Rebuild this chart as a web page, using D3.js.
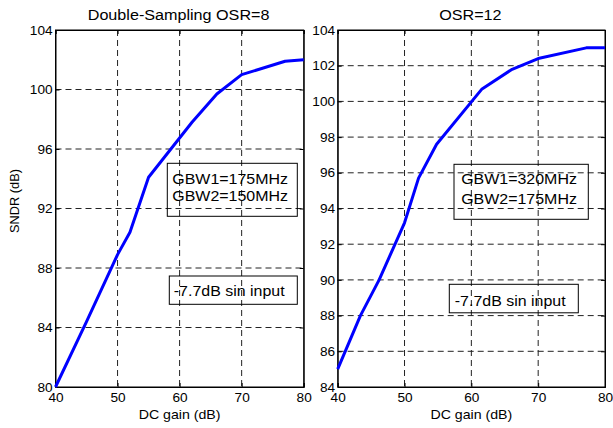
<!DOCTYPE html>
<html><head><meta charset="utf-8">
<script src="https://cdn.jsdelivr.net/npm/d3@7"></script>
<style>body{margin:0;background:#fff}svg{display:block}text{font-family:Arial,"Liberation Sans",Helvetica,sans-serif;fill:#000}</style>
</head><body><svg id="c" width="613" height="428"></svg>
<script>
// Left panel: Double-Sampling OSR=8
const leftGain = [40, 45, 50, 52, 55, 62, 66, 70, 77, 80];
const leftSNDR = [80, 84.4, 88.9, 90.4, 94.1, 97.8, 99.7, 101.0, 101.9, 102.0];
const leftXTicks = [40, 50, 60, 70, 80];
const leftYTicks = [80, 84, 88, 92, 96, 100, 104];
// Right panel: OSR=12
const rightGain = [40, 43.4, 46.2, 50, 52.1, 54.8, 61.6, 66.1, 70, 77.2, 80];
const rightSNDR = [85.0, 88.0, 90.0, 93.2, 95.7, 97.6, 100.7, 101.8, 102.4, 103.0, 103.0];
const rightXTicks = [40, 50, 60, 70, 80];
const rightYTicks = [84, 86, 88, 90, 92, 94, 96, 98, 100, 102, 104];
const titles = ["Double-Sampling OSR=8", "OSR=12"];
const xLabel = "DC gain (dB)";
const yLabel = "SNDR (dB)";
const leftNotes = ["GBW1=175MHz", "GBW2=150MHz"];
const rightNotes = ["GBW1=320MHz", "GBW2=175MHz"];
const inputNote = "-7.7dB sin input";

const S = 1.05; // horizontal stretch of the reference's text
const svg = d3.select("#c");

function stext(parent, x, y, txt, size, anchor) {
  return parent.append("text")
    .attr("transform", `translate(${x},${y}) scale(${S},1)`)
    .attr("text-anchor", anchor || "start")
    .style("font-size", size + "px").text(txt);
}

function panel(cfg) {
  const x = d3.scaleLinear().domain([40, 80]).range([cfg.x0, cfg.x1]);
  const y = d3.scaleLinear().domain(cfg.yDom).range([cfg.y1, cfg.y0]);
  const g = svg.append("g");
  // line first, grid over it like the reference? reference draws grid beneath line
  g.selectAll(".gx").data(cfg.xt.slice(1, -1)).enter().append("line")
    .attr("x1", d => x(d)).attr("x2", d => x(d)).attr("y1", cfg.y0).attr("y2", cfg.y1)
    .attr("stroke", "#222").attr("stroke-width", 1).attr("stroke-dasharray", "6,4");
  g.selectAll(".gy").data(cfg.yt.slice(1, -1)).enter().append("line")
    .attr("y1", d => y(d)).attr("y2", d => y(d)).attr("x1", cfg.x0).attr("x2", cfg.x1)
    .attr("stroke", "#222").attr("stroke-width", 1).attr("stroke-dasharray", "6,4");
  // axes
  const xa = d3.axisBottom(x).tickValues(cfg.xt).tickSize(-4).tickPadding(6).tickFormat(d3.format("d"));
  const ya = d3.axisLeft(y).tickValues(cfg.yt).tickSize(-4).tickPadding(cfg.yPad).tickFormat(d3.format("d"));
  g.append("g").attr("transform", `translate(0,${cfg.y1})`).call(xa);
  g.append("g").attr("transform", `translate(${cfg.x0},0)`).call(ya);
  g.append("g").attr("transform", `translate(0,${cfg.y0})`).call(d3.axisTop(x).tickValues(cfg.xt).tickSize(-4).tickFormat(""));
  g.append("g").attr("transform", `translate(${cfg.x1},0)`).call(d3.axisRight(y).tickValues(cfg.yt).tickSize(-4).tickFormat(""));
  g.selectAll(".domain").attr("stroke", "#000");
  g.selectAll(".tick line").attr("stroke", "#000");
  g.selectAll(".tick text").style("font-size", "13px").attr("fill", "#000")
    .attr("transform", `scale(${S},1)`);
  // frame
  g.append("rect").attr("x", cfg.x0).attr("y", cfg.y0).attr("width", cfg.x1 - cfg.x0).attr("height", cfg.y1 - cfg.y0)
    .attr("fill", "none").attr("stroke", "#000").attr("stroke-width", 1);
  // data line
  const pts = cfg.gx.map((v, i) => [v, cfg.gy[i]]);
  g.append("path").datum(pts)
    .attr("d", d3.line().x(d => x(d[0])).y(d => y(d[1])))
    .attr("fill", "none").attr("stroke", "#0000ff").attr("stroke-width", 3).attr("stroke-linejoin", "round");
  // title & x label
  stext(g, (cfg.x0 + cfg.x1) / 2 - 1, 19.5, cfg.title, 15.4, "middle");
  stext(g, (cfg.x0 + cfg.x1) / 2, 419, xLabel, 13.5, "middle");
  // notes
  const b = cfg.box1;
  g.append("rect").attr("x", b[0]).attr("y", b[1]).attr("width", b[2]).attr("height", b[3])
    .attr("fill", "none").attr("stroke", "#000");
  cfg.notes.forEach((t, i) => stext(g, b[0] + cfg.n1[0], b[1] + cfg.n1[1 + i], t, 15.2));
  const c = cfg.box2;
  g.append("rect").attr("x", c[0]).attr("y", c[1]).attr("width", c[2]).attr("height", c[3])
    .attr("fill", "none").attr("stroke", "#000");
  stext(g, c[0] + cfg.n2[0], c[1] + cfg.n2[1], inputNote, 15.2);
}

panel({x0: 55.5, x1: 303.7, y0: 30, y1: 387, yDom: [80, 104], xt: leftXTicks, yt: leftYTicks, yPad: 2.8,
  gx: leftGain, gy: leftSNDR, title: titles[0], notes: leftNotes,
  box1: [167.3, 163.3, 130, 53], n1: [5, 20.7, 37.4],
  box2: [169.3, 276, 128, 28.3], n2: [4.5, 20]});
panel({x0: 337.7, x1: 605, y0: 30, y1: 387, yDom: [84, 104], xt: rightXTicks, yt: rightYTicks, yPad: 2.5,
  gx: rightGain, gy: rightSNDR, title: titles[1], notes: rightNotes,
  box1: [454, 164.3, 134.3, 55], n1: [7.2, 20, 39.7],
  box2: [449.3, 284.3, 129, 28.5], n2: [5.5, 21.5]});

svg.append("text").attr("transform", "translate(18.5,201) rotate(-90)").attr("text-anchor", "middle")
  .style("font-size", "12.8px").text(yLabel);
</script></body></html>
